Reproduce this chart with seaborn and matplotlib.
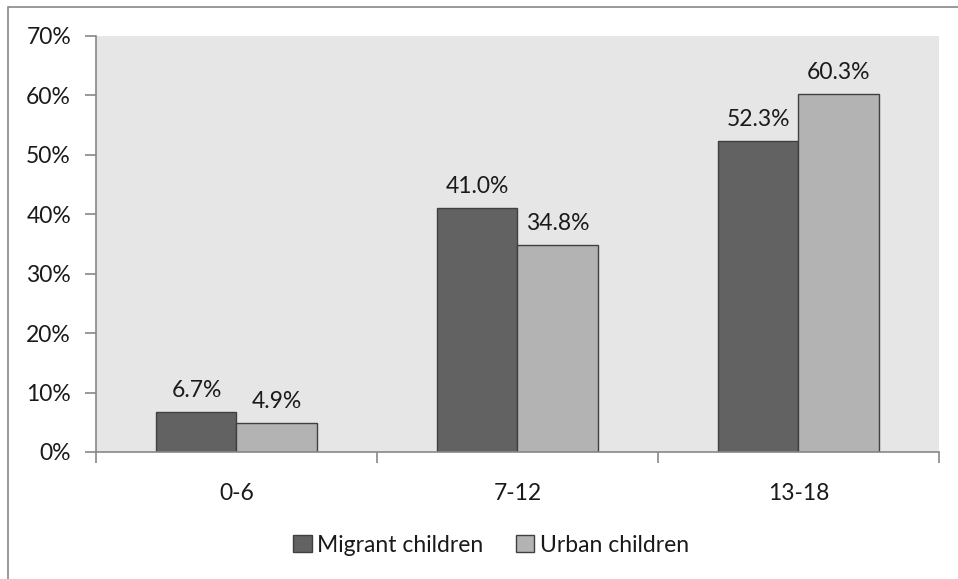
import matplotlib
matplotlib.use("Agg")
import matplotlib.pyplot as plt
import seaborn as sns
import pandas as pd
from matplotlib.patches import Rectangle, Patch
from matplotlib.ticker import FuncFormatter

categories = ["0-6", "7-12", "13-18"]
series_names = ["Migrant children", "Urban children"]
migrant = [6.7, 41.0, 52.3]
urban = [4.9, 34.8, 60.3]
yticks = [0, 10, 20, 30, 40, 50, 60, 70]
colors = ["#626262", "#b3b3b3"]

df = pd.DataFrame({
    "age": categories * 2,
    "group": [series_names[0]] * 3 + [series_names[1]] * 3,
    "value": migrant + urban,
})

sns.set_theme(style="white")
plt.rcParams["font.family"] = ["Lato", "DejaVu Sans"]

FS = 16.5
W, H = 958, 579
fig = plt.figure(figsize=(W / 100, H / 100), dpi=100)
ax = fig.add_axes([96 / W, 1 - 452 / H, (939 - 96) / W, (452 - 36) / H])
ax.set_facecolor("#e6e6e6")

sns.barplot(data=df, x="age", y="value", hue="group", order=categories,
            hue_order=series_names, palette=colors, width=0.57,
            edgecolor="#404040", linewidth=1.0, ax=ax, legend=False)

for cont in ax.containers:
    ax.bar_label(cont, labels=[f"{v:.1f}%" for v in cont.datavalues],
                 padding=8, fontsize=FS, color="#1a1a1a")

ax.set_xlim(-0.5, 2.5)
ax.set_ylim(0, 70)
ax.set_yticks(yticks)
ax.yaxis.set_major_formatter(FuncFormatter(lambda v, p: f"{v:.0f}%"))
ax.set_xlabel("")
ax.set_ylabel("")
ax.set_xticks(range(3))
ax.set_xticklabels(categories)
ax.set_xticks([-0.5, 0.5, 1.5, 2.5], minor=True)
ax.tick_params(axis="x", which="major", length=0, pad=22, labelsize=FS, labelcolor="#1a1a1a")
ax.tick_params(axis="x", which="minor", length=8, width=1.2, color="#888888", direction="out", bottom=True)
ax.tick_params(axis="y", length=8, width=1.2, color="#888888", direction="out", left=True,
               labelsize=FS, labelcolor="#1a1a1a", pad=10)
for s in ["top", "right"]:
    ax.spines[s].set_visible(False)
for s in ["left", "bottom"]:
    ax.spines[s].set_color("#888888")
    ax.spines[s].set_linewidth(1.2)

handles = [Patch(facecolor=c, edgecolor="#404040", linewidth=1.0) for c in colors]
fig.legend(handles, series_names, loc="center", bbox_to_anchor=(491 / W, 1 - 545 / H),
           ncol=2, frameon=False, fontsize=FS, handlelength=0.8, handleheight=0.8,
           handletextpad=0.25, columnspacing=1.4, labelcolor="#1a1a1a")

fig.patches.append(Rectangle((8 / W, -0.1), 1.2, 1 - 7 / H + 0.1, transform=fig.transFigure,
                             fill=False, edgecolor="#888888", linewidth=1.2))

fig.savefig("out.png", dpi=100, facecolor="white")
